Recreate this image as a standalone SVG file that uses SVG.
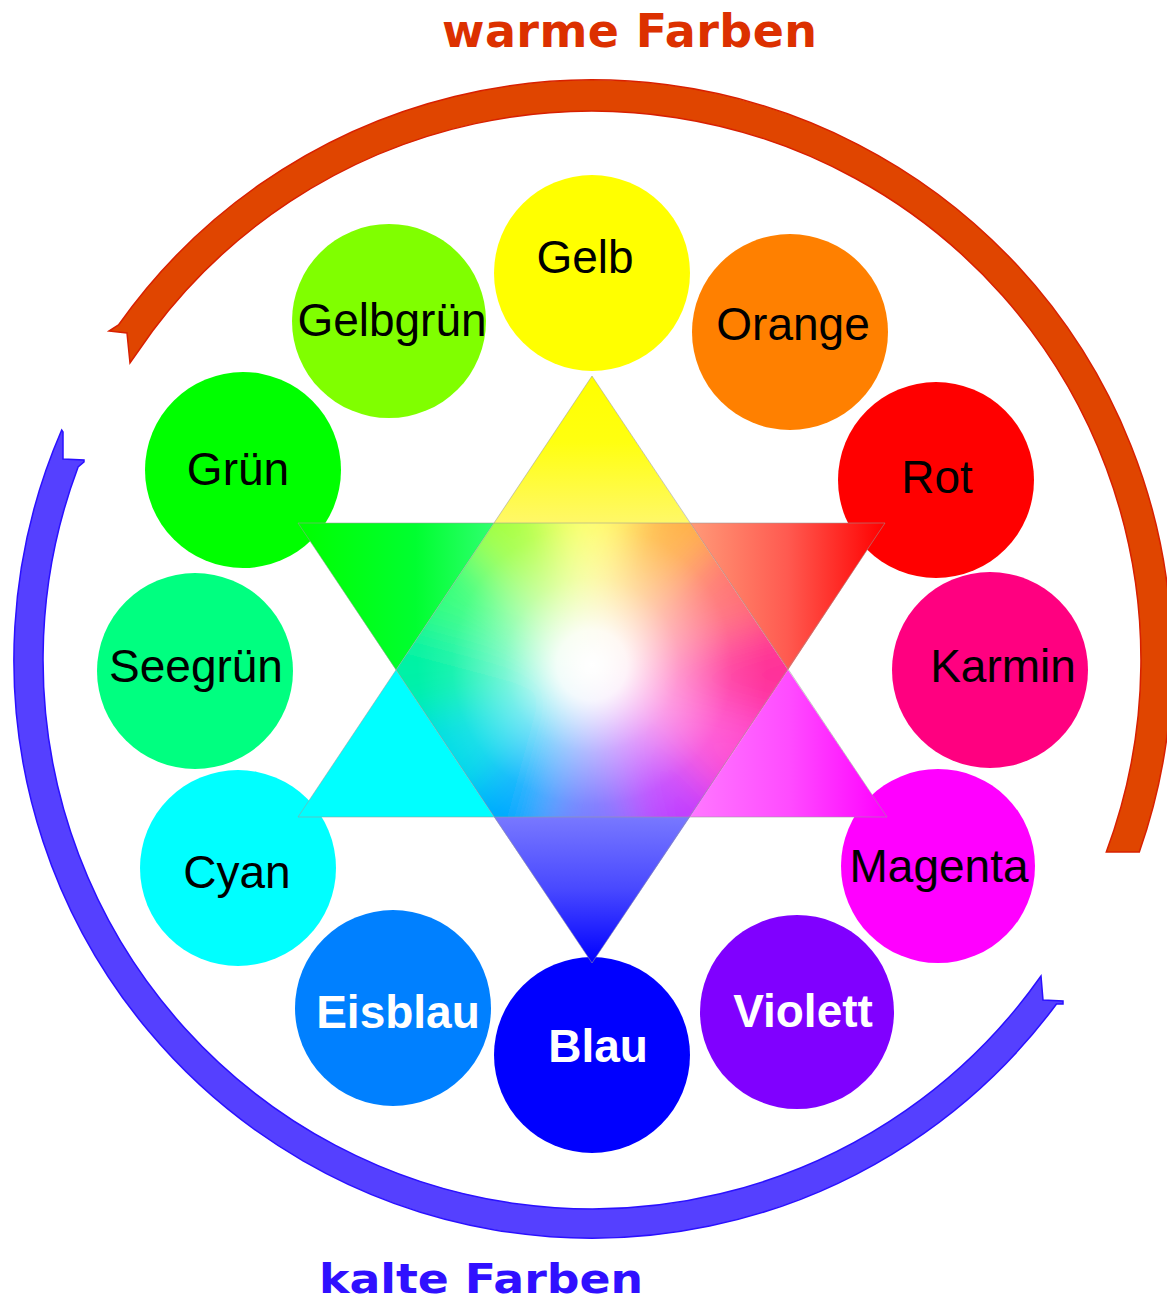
<svg xmlns="http://www.w3.org/2000/svg" width="1167" height="1307" viewBox="0 0 1167 1307">
<style>
.lbl{font-family:"Liberation Sans",Arial,sans-serif;font-size:46px;fill:#000;text-anchor:middle}
.wl{font-family:"Liberation Sans",Arial,sans-serif;font-size:46px;font-weight:bold;fill:#fff;text-anchor:middle}
.title{font-family:"DejaVu Sans",Verdana,sans-serif;font-weight:bold}
.warm{fill:#e04500;stroke:#d82000;stroke-width:1.5}
.cold{fill:#5540ff;stroke:#2a10ff;stroke-width:1.5}
.edge{fill:none;stroke:#9a9a9a;stroke-opacity:0.55;stroke-width:1}
</style>
<defs>
<linearGradient id="gY" x1="0" y1="0" x2="0" y2="1"><stop offset="0" stop-color="#ffff00"/><stop offset="0.45" stop-color="#ffff10"/><stop offset="1" stop-color="#fff868"/></linearGradient>
<linearGradient id="gG" x1="0" y1="0" x2="1" y2="0"><stop offset="0" stop-color="#00ff00"/><stop offset="0.6" stop-color="#00ff30"/><stop offset="1" stop-color="#30ff70"/></linearGradient>
<linearGradient id="gR" x1="0" y1="0" x2="1" y2="0"><stop offset="0" stop-color="#ff9a78"/><stop offset="0.5" stop-color="#ff5a50"/><stop offset="1" stop-color="#ff0000"/></linearGradient>
<linearGradient id="gM" x1="0" y1="0" x2="1" y2="0"><stop offset="0" stop-color="#ff78ff"/><stop offset="0.5" stop-color="#ff4cff"/><stop offset="1" stop-color="#ff00ff"/></linearGradient>
<linearGradient id="gB" x1="0" y1="0" x2="0" y2="1"><stop offset="0" stop-color="#7878ff"/><stop offset="0.5" stop-color="#4848ff"/><stop offset="1" stop-color="#0000ff"/></linearGradient>
<radialGradient id="gW" gradientUnits="userSpaceOnUse" cx="592" cy="665" r="175"><stop offset="0" stop-color="#fff" stop-opacity="1"/><stop offset="0.2" stop-color="#fff" stop-opacity="0.92"/><stop offset="0.5" stop-color="#fff" stop-opacity="0.45"/><stop offset="0.8" stop-color="#fff" stop-opacity="0.1"/><stop offset="1" stop-color="#fff" stop-opacity="0"/></radialGradient>
<clipPath id="hex"><polygon points="494,523 690,523 788,670 690,817 494,817 396,670"/></clipPath>
<filter id="blur" filterUnits="userSpaceOnUse" x="200" y="280" width="800" height="800"><feGaussianBlur stdDeviation="22"/></filter>
</defs>
<rect width="1167" height="1307" fill="#fff"/>

<text class="title" x="442" y="47" font-size="46" fill="#dc3000" textLength="375" lengthAdjust="spacing">warme Farben</text>
<text class="title" x="319" y="1293" font-size="40" fill="#3010ff" textLength="324" lengthAdjust="spacingAndGlyphs">kalte Farben</text>

<g id="connectors">
<path id="warm-arrow" class="warm" d="M1139.3,852 A580,580 0 0 0 118.5,325 L109,331 L127,333 L130,363 L152.5,331 A549,549 0 0 1 1106.3,852 Z"/>
<path id="cold-arrow" class="cold" d="M61.7,430 A578,578 0 0 0 1056.5,1004 L1063,1004 L1063,1001 L1043,1000 L1041,976 A549,549 0 0 1 78.1,467 L84,462 L84,460 L63,459 L63,432 Z"/>
</g>

<g id="gelb"><circle cx="592" cy="273" r="98" fill="#ffff00"/><text class="lbl" x="585" y="273">Gelb</text></g>
<g id="gelbgruen"><circle cx="389" cy="321" r="97" fill="#80ff00"/><text class="lbl" x="392" y="336">Gelbgrün</text></g>
<g id="orange"><circle cx="790" cy="332" r="98" fill="#ff8000"/><text class="lbl" x="793" y="340">Orange</text></g>
<g id="gruen"><circle cx="243" cy="470" r="98" fill="#00ff00"/><text class="lbl" x="238" y="485">Grün</text></g>
<g id="rot"><circle cx="936" cy="480" r="98" fill="#ff0000"/><text class="lbl" x="937" y="493">Rot</text></g>
<g id="seegruen"><circle cx="195" cy="671" r="98" fill="#00ff80"/><text class="lbl" x="196" y="682">Seegrün</text></g>
<g id="karmin"><circle cx="990" cy="670" r="98" fill="#ff0080"/><text class="lbl" x="1003" y="682">Karmin</text></g>
<g id="cyan"><circle cx="238" cy="868" r="98" fill="#00ffff"/><text class="lbl" x="237" y="888">Cyan</text></g>
<g id="magenta"><circle cx="938" cy="866" r="97" fill="#ff00ff"/><text class="lbl" x="939" y="882">Magenta</text></g>
<g id="eisblau"><circle cx="393" cy="1008" r="98" fill="#0080ff"/><text class="wl" x="398" y="1028">Eisblau</text></g>
<g id="blau"><circle cx="592" cy="1055" r="98" fill="#0000ff"/><text class="wl" x="598" y="1062">Blau</text></g>
<g id="violett"><circle cx="797" cy="1012" r="97" fill="#8000ff"/><text class="wl" x="803" y="1027">Violett</text></g>

<g id="star">
<polygon points="592,376 494,523 690,523" fill="url(#gY)"/>
<polygon points="298,523 494,523 396,670" fill="url(#gG)"/>
<polygon points="690,523 885,523 788,670" fill="url(#gR)"/>
<polygon points="298,817 396,670 494,817" fill="#00ffff"/>
<polygon points="690,817 788,670 887,817" fill="url(#gM)"/>
<polygon points="494,817 690,817 592,963" fill="url(#gB)"/>
<g clip-path="url(#hex)">
<g filter="url(#blur)" stroke-width="1">
<polygon points="592,670 901.1,587.2 901.1,752.8" fill="#ff3399" stroke="#ff3399"/>
<polygon points="592,670 901.1,752.8 818.3,896.3" fill="#ff4dd2" stroke="#ff4dd2"/>
<polygon points="592,670 818.3,896.3 674.8,979.1" fill="#c040ff" stroke="#c040ff"/>
<polygon points="592,670 674.8,979.1 509.2,979.1" fill="#7373ff" stroke="#7373ff"/>
<polygon points="592,670 509.2,979.1 365.7,896.3" fill="#00aaff" stroke="#00aaff"/>
<polygon points="592,670 365.7,896.3 282.9,752.8" fill="#00dde6" stroke="#00dde6"/>
<polygon points="592,670 282.9,752.8 282.9,587.2" fill="#00f2a6" stroke="#00f2a6"/>
<polygon points="592,670 282.9,587.2 365.7,443.7" fill="#33ff77" stroke="#33ff77"/>
<polygon points="592,670 365.7,443.7 509.2,360.9" fill="#a6ff40" stroke="#a6ff40"/>
<polygon points="592,670 509.2,360.9 674.8,360.9" fill="#ffff66" stroke="#ffff66"/>
<polygon points="592,670 674.8,360.9 818.3,443.7" fill="#ffb347" stroke="#ffb347"/>
<polygon points="592,670 818.3,443.7 901.1,587.2" fill="#ff7070" stroke="#ff7070"/>
</g>
<rect x="380" y="500" width="420" height="340" fill="url(#gW)"/>
</g>
<polygon class="edge" points="592,376 887,817 298,817"/>
<polygon class="edge" points="298,523 885,523 592,963"/>
</g>
</svg>
